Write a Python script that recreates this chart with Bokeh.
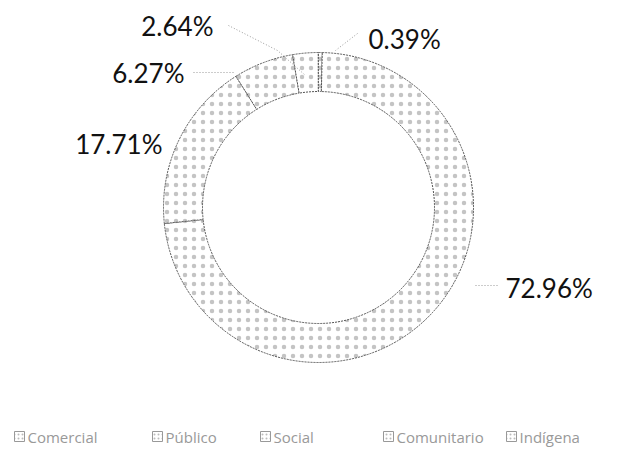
import numpy as np
from bokeh.plotting import figure
from bokeh.models import Range1d
from bokeh.core.properties import value
from bokeh.embed import file_html
from bokeh.resources import INLINE

categories = ["Comercial", "Público", "Social", "Comunitario", "Indígena"]
shares = [0.39, 72.96, 17.71, 6.27, 2.64]
labels = ["0.39%", "72.96%", "17.71%", "6.27%", "2.64%"]

W, H = 625, 451
p = figure(width=W, height=H, output_backend="svg", toolbar_location=None,
           x_range=Range1d(0, W), y_range=Range1d(0, H),
           min_border=0, outline_line_color=None)
p.axis.visible = False
p.grid.visible = False
p.background_fill_color = "white"

def Y(v):
    return H - v

cx, cy = 318, Y(207)
r_in, r_out = 116, 155

frac = np.array(shares) / 100.0
cum = np.concatenate([[0], np.cumsum(frac)])
start = np.pi / 2 - 2 * np.pi * cum[:-1]
end = np.pi / 2 - 2 * np.pi * cum[1:]

for i in range(len(shares)):
    p.annular_wedge(x=cx, y=cy, inner_radius=r_in, outer_radius=r_out,
                    start_angle=start[i], end_angle=end[i], direction="clock",
                    fill_color="white", hatch_pattern="dot", hatch_color="#c4c4c4",
                    hatch_scale=9, hatch_weight=1,
                    line_color="#555555", line_width=1, line_dash="2 1")

# percentage labels
lab_x = [368, 505, 162, 184, 213]
lab_y = [38, 287, 143, 72, 25]
lab_align = ["left", "left", "right", "right", "right"]
for t, x, y, a in zip(labels, lab_x, lab_y, lab_align):
    p.text(x=[x], y=[Y(y)], text=[t], text_font=value("Lato"), text_font_size="26px",
           text_color="#111111", text_align=a, text_baseline="middle")

# leader lines
leaders = [
    ([357, 335], [33, 50]),
    ([475, 498], [285, 285]),
    ([193, 235], [72, 72]),
    ([228, 277, 305], [25, 50, 75]),
]
for xs, ys in leaders:
    p.line(x=xs, y=[Y(v) for v in ys], line_color="#999999", line_width=1, line_dash="1 2")

# legend
leg_box_x = [19, 157, 265, 388, 511]
leg_y = 436
for i, c in enumerate(categories):
    p.scatter(x=[leg_box_x[i]], y=[Y(leg_y)], marker="square", size=10,
              fill_color="white", line_color="#999999", hatch_pattern="dot",
              hatch_color="#bbbbbb", hatch_scale=4)
    p.text(x=[leg_box_x[i] + 8], y=[Y(leg_y)], text=[c], text_font=value("Open Sans"),
           text_font_size="15px", text_color="#999999", text_align="left",
           text_baseline="middle")

open("out.html", "w").write(file_html(p, INLINE))
